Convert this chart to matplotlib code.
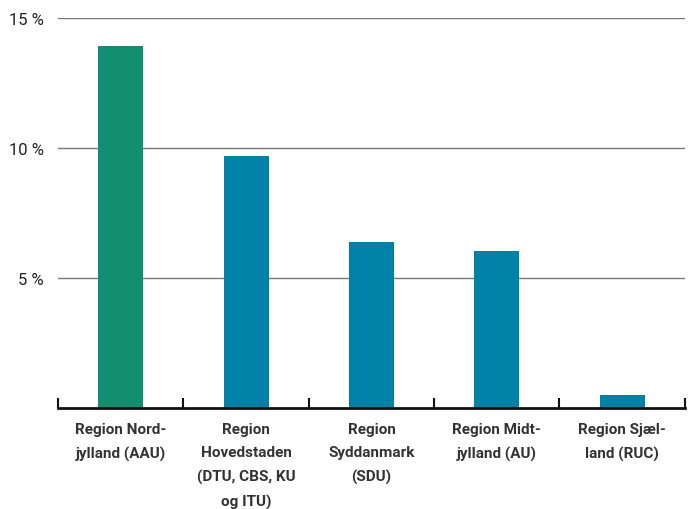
import numpy as np
import matplotlib.pyplot as plt

categories = ['Region Nord-\njylland (AAU)',
              'Region\nHovedstaden\n(DTU, CBS, KU\nog ITU)',
              'Region\nSyddanmark\n(SDU)',
              'Region Midt-\njylland (AU)',
              'Region Sjæl-\nland (RUC)']
values = [13.9, 9.7, 6.4, 6.05, 0.5]
colors = ['#128f6e', '#0081a8', '#0081a8', '#0081a8', '#0081a8']
yticks = [5, 10, 15]
ytick_labels = ['5 %', '10 %', '15 %']

plt.rcParams['font.family'] = ['Roboto', 'DejaVu Sans']

fig = plt.figure(figsize=(6.89, 5.10), dpi=100)
ax = fig.add_axes([0.0842, 0.198, 0.9098, 0.765])

x = np.arange(len(categories))
ax.bar(x, values, width=0.36, color=colors, zorder=3)

ax.set_xlim(-0.5, len(categories) - 0.5)
ax.set_ylim(0, 15)
ax.set_yticks(yticks)
ax.set_yticklabels(ytick_labels, fontsize=12, color='#222222')
ax.yaxis.grid(True, color='#777777', linewidth=1)
ax.tick_params(axis='y', length=0, pad=10)

ax.set_xticks(x)
ax.set_xticklabels(categories, fontsize=11, fontweight='semibold', color='#333333',
                   linespacing=1.85, va='top')
ax.tick_params(axis='x', which='major', length=0, pad=10)
ax.set_xticks(np.arange(-0.5, len(categories)), minor=True)
ax.tick_params(axis='x', which='minor', direction='in', length=7, width=1.5, color='#111111')

for side in ['top', 'right', 'left']:
    ax.spines[side].set_visible(False)
ax.spines['bottom'].set_color('#111111')
ax.spines['bottom'].set_linewidth(2)
ax.spines['bottom'].set_zorder(4)

fig.savefig('out.png', dpi=100)
